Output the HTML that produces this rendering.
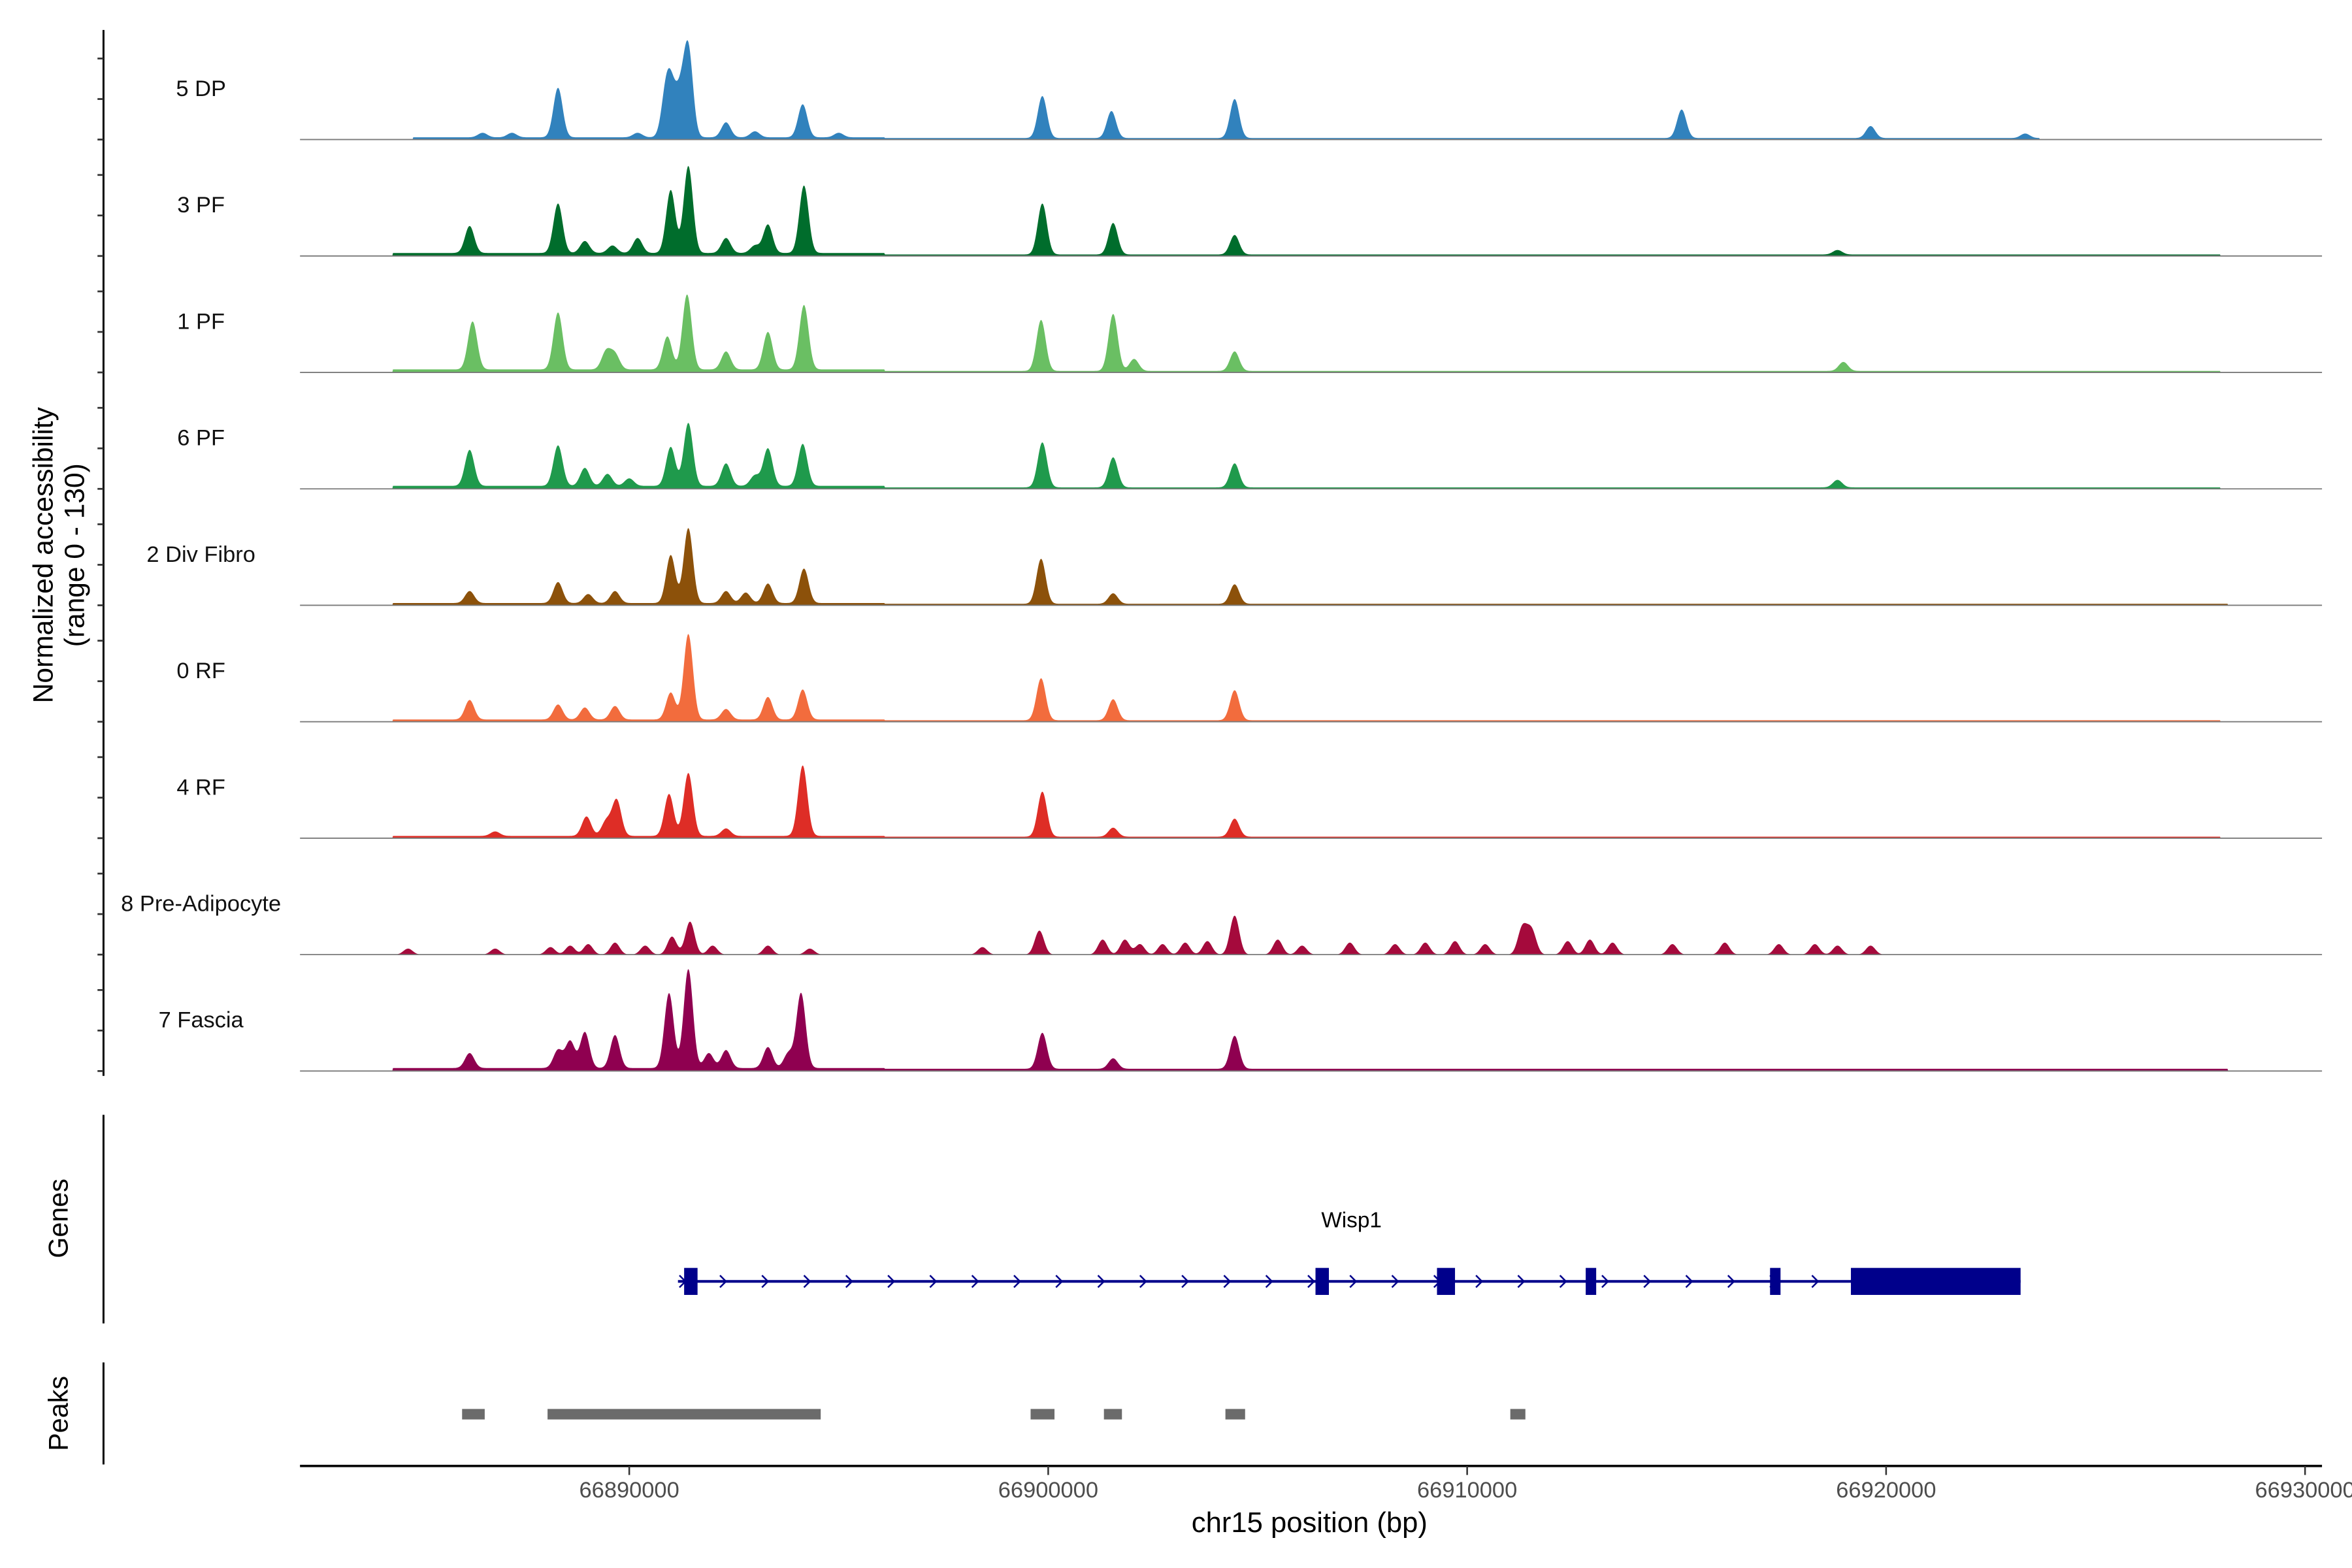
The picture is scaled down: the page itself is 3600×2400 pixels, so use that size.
<!DOCTYPE html>
<html><head><meta charset="utf-8">
<style>
html,body{margin:0;padding:0;background:#fff;}
svg{display:block;font-family:"Liberation Sans",Arial,sans-serif;}
</style></head>
<body>
<svg id="chart" width="3600" height="2400" viewBox="0 0 1568 1045" preserveAspectRatio="none" xmlns="http://www.w3.org/2000/svg">
<rect width="1568" height="1045" fill="#fff"/>
<g id="tracks"></g>
<g id="yaxis">
  <line x1="69" y1="20" x2="69" y2="717" stroke="#000" stroke-width="1.3"/>
</g>
<text transform="translate(35,370) rotate(-90)" text-anchor="middle" font-size="18.5">Normalized accessibility</text>
<text transform="translate(56,370) rotate(-90)" text-anchor="middle" font-size="18.5">(range 0 - 130)</text>
<g>
  <line x1="69" y1="743" x2="69" y2="882" stroke="#000" stroke-width="1.3"/>
  <text transform="translate(45,812) rotate(-90)" text-anchor="middle" font-size="18">Genes</text>
  <g id="genes"></g>
  <text x="901" y="818" text-anchor="middle" font-size="14.5">Wisp1</text>
</g>
<g>
  <line x1="69" y1="908" x2="69" y2="976" stroke="#000" stroke-width="1.3"/>
  <text transform="translate(45,942) rotate(-90)" text-anchor="middle" font-size="18">Peaks</text>
  <g id="peaks"></g>
</g>
<g id="xaxis">
  <line x1="200" y1="977" x2="1548" y2="977" stroke="#000" stroke-width="1.6"/>
</g>
<text x="873" y="1021" text-anchor="middle" font-size="19">chr15 position (bp)</text>
</svg>
<script>
// ---- data (positions in kb on chr15, heights in normalized accessibility) ----
const trackNames = ["5 DP","3 PF","1 PF","6 PF","2 Div Fibro","0 RF","4 RF","8 Pre-Adipocyte","7 Fascia"];
const trackColors = ["#3182bd","#006d2c","#6abf63","#1f9a4c","#8c510a","#f26c3d","#de2d26","#a50a3c","#8f0050"];
const peaks5DP = [[66888.30,66],[66890.88,60],[66891.02,50],[66891.41,116],[66891.22,50],[66892.31,20],[66894.14,44],[66899.86,56],[66901.51,36],[66904.45,52],[66915.12,38],[66919.63,16],[66923.32,6],[66886.5,6],[66887.2,6],[66890.2,6],[66893.0,8],[66895.0,6]];
const peaks3PF = [[66886.19,36],[66888.30,66],[66888.94,16],[66890.20,20],[66890.99,84],[66891.41,116],[66892.31,20],[66893.31,38],[66894.17,90],[66899.86,68],[66901.55,42],[66904.45,26],[66918.84,6],[66889.6,10],[66893.0,10]];
const peaks1PF = [[66886.26,64],[66888.30,76],[66889.45,24],[66889.66,20],[66890.91,44],[66891.38,100],[66892.31,24],[66893.31,50],[66894.17,86],[66899.83,68],[66901.55,76],[66902.05,16],[66904.45,26],[66918.98,12]];
const peaks6PF = [[66886.19,48],[66888.30,54],[66888.94,24],[66889.48,16],[66890.99,52],[66891.41,84],[66892.31,30],[66893.31,50],[66894.14,56],[66899.86,60],[66901.55,40],[66904.45,32],[66918.84,10],[66890.0,10],[66893.0,14]];
const peaks2Div = [[66886.19,16],[66888.30,28],[66889.02,12],[66889.66,16],[66890.99,64],[66891.41,100],[66892.31,16],[66892.78,14],[66893.31,26],[66894.17,46],[66899.83,60],[66901.55,14],[66904.45,26]];
const peaks0RF = [[66886.19,26],[66888.30,20],[66888.94,16],[66889.66,18],[66890.99,36],[66891.41,114],[66892.31,14],[66893.31,30],[66894.14,40],[66899.83,56],[66901.55,28],[66904.45,40]];
const peaks4RF = [[66888.98,26],[66889.45,20],[66889.70,48],[66890.95,56],[66891.41,84],[66892.31,10],[66894.14,94],[66899.86,60],[66901.55,12],[66904.45,24],[66886.8,6]];
const peaks8PA = [[66884.72,8],[66886.80,8],[66888.12,10],[66888.59,12],[66889.02,14],[66889.66,16],[66890.38,12],[66891.02,24],[66891.45,44],[66891.99,12],[66893.31,12],[66894.31,8],[66898.43,10],[66899.79,32],[66901.30,20],[66901.83,20],[66902.19,14],[66902.73,14],[66903.27,16],[66903.80,18],[66904.45,52],[66905.48,20],[66906.06,12],[66907.20,16],[66908.28,14],[66909.00,16],[66909.71,18],[66910.43,14],[66911.32,36],[66911.54,32],[66912.40,18],[66912.93,20],[66913.47,16],[66914.90,14],[66916.15,16],[66917.44,14],[66918.30,14],[66918.84,12],[66919.63,12]];
const peaks7Fas = [[66886.19,20],[66888.30,24],[66888.59,36],[66888.94,48],[66889.66,44],[66890.95,100],[66891.41,132],[66892.31,24],[66893.31,28],[66894.10,100],[66899.86,48],[66901.55,14],[66904.45,44],[66891.9,20],[66893.8,20]];
const bgLevels = [
  [[66884.83,66896.10,3],[66896.10,66923.67,2]],
  [[66884.36,66896.10,4],[66896.10,66927.97,2]],
  [[66884.36,66896.10,4],[66896.10,66927.97,2]],
  [[66884.36,66896.10,4],[66896.10,66927.97,2]],
  [[66884.36,66896.10,3],[66896.10,66928.15,2]],
  [[66884.36,66896.10,3],[66896.10,66927.97,2]],
  [[66884.36,66896.10,3],[66896.10,66927.97,2]],
  [],
  [[66884.36,66896.10,4],[66896.10,66928.15,3]]
];
const allPeaks = [peaks5DP,peaks3PF,peaks1PF,peaks6PF,peaks2Div,peaks0RF,peaks4RF,peaks8PA,peaks7Fas];
const geneStart = 66891.27, geneEnd = 66923.21;
const exons = [[66891.31,66891.63],[66906.38,66906.70],[66909.28,66909.71],[66912.83,66913.08],[66917.23,66917.48],[66919.16,66923.21]];
const peakRegions = [[66886.01,66886.55],[66888.05,66894.57],[66899.58,66900.15],[66901.33,66901.76],[66904.23,66904.70],[66911.03,66911.39]];
const xTicks = [66890000,66900000,66910000,66920000,66930000];

// ---- scales ----
const NS="http://www.w3.org/2000/svg";
const X0=200, X1=1548, kb0=66882.141, pxPerKb=27.93;
function xs(kb){return X0+(kb-kb0)*pxPerKb;}
function kbAt(px){return kb0+(px-X0)/pxPerKb;}
const trackStep=77.6, yScale=0.5;
function baseY(i){return 93+i*trackStep;}
function mk(tag,attrs,parent){const e=document.createElementNS(NS,tag);for(const k in attrs)e.setAttribute(k,attrs[k]);parent.appendChild(e);return e;}

const tracksG=document.getElementById('tracks');
const yaxisG=document.getElementById('yaxis');
const sigma=0.11;
trackNames.forEach((name,i)=>{
  const b=baseY(i);
  const g=mk('g',{},tracksG);
  
  
  const pk=allPeaks[i], bg=bgLevels[i];
  let d='M'+X0+' '+b;
  for(let px=X0;px<=X1;px+=0.5){
    const kb=kbAt(px);
    let v=0;
    for(const [s,e,l] of bg){ if(kb>=s&&kb<e) v+=l; }
    for(const [p,h] of pk){ const z=(kb-p)/sigma; if(Math.abs(z)<4) v+=h*Math.exp(-0.5*z*z); }
    d+=' L'+px.toFixed(1)+' '+(b-v*yScale).toFixed(2);
  }
  d+=' L'+X1+' '+b+' Z';
  const area=mk('path',{d:d,fill:trackColors[i]},g);
  
  
  const bl=mk('line',{x1:X0,y1:b,x2:X1,y2:b,stroke:'#7a7a7a','stroke-width':0.8},g);
  
  
  const t=mk('text',{x:134,y:b-29,'text-anchor':'middle','font-size':15,fill:'#111'},g);
  t.textContent=name;
  
  
  [0,27,54].forEach(o=>{
    const tk=mk('line',{x1:65,y1:b-o,x2:69,y2:b-o,stroke:'#333','stroke-width':1.2},yaxisG);
    
    
  });
});

// genes
const genesG=document.getElementById('genes');
const gy=854;
mk('line',{x1:xs(geneStart)-3,y1:gy,x2:xs(geneEnd),y2:gy,stroke:'#00008b','stroke-width':1.8},genesG);
for(let px=xs(geneStart)+27;px<xs(exons[5][0])-5;px+=28){
  const c=mk('polyline',{points:(px-2)+','+(gy-4)+' '+(px+2)+','+gy+' '+(px-2)+','+(gy+4),fill:'none',stroke:'#00008b','stroke-width':1.1},genesG);
  
  
}
mk('polyline',{points:(xs(geneStart)-2)+','+(gy-4)+' '+(xs(geneStart)+2)+','+gy+' '+(xs(geneStart)-2)+','+(gy+4),fill:'none',stroke:'#00008b','stroke-width':1.1},genesG);
exons.forEach(([s,e])=>{
  const r=mk('rect',{x:xs(s),y:gy-9,width:Math.max(xs(e)-xs(s),3),height:18,fill:'#00008b'},genesG);
  
  
});

// peaks
const peaksG=document.getElementById('peaks');
peakRegions.forEach(([s,e])=>{
  const r=mk('rect',{x:xs(s),y:939,width:xs(e)-xs(s),height:7,fill:'#6b6b6b'},peaksG);
  
  
});

// x axis
const xa=document.getElementById('xaxis');
xTicks.forEach(v=>{
  const x=xs(v/1000);
  const l=mk('line',{x1:x,y1:977,x2:x,y2:983,stroke:'#333','stroke-width':1.1},xa);
  
  
  const t=mk('text',{x:x,y:998,'text-anchor':'middle','font-size':15,fill:'#4d4d4d'},xa);
  t.textContent=String(v);
  
  
});
</script>
</body></html>
